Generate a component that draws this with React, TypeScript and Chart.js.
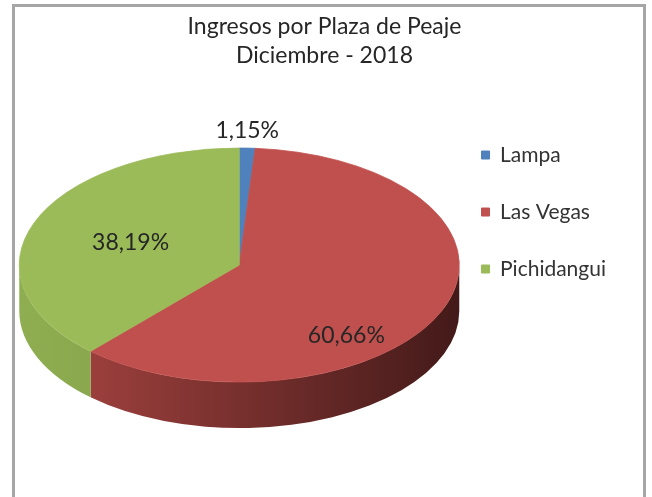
import React, { useEffect, useRef } from "react";
import { Chart, registerables } from "chart.js";

Chart.register(...registerables);

// ---- data ----
const TITLE_LINES = ["Ingresos por Plaza de Peaje", "Diciembre - 2018"];
const CATEGORIES = ["Lampa", "Las Vegas", "Pichidangui"];
const SHARES = [1.15, 60.66, 38.19];

// ---- style ----
const TOP_COLORS = ["#4F81BD", "#C0504D", "#9BBB59"];
const SIDE_LIGHT = ["#4a77b0", "#ac4643", "#8fae51"];
const SIDE_DARK = ["#2c4d75", "#431a19", "#6e8b3c"];
const FONT = "Lato, 'Open Sans', sans-serif";
const TILT = 0.532;
const DEPTH = 46;

const fmt = (v: number) => v.toFixed(2).replace(".", ",") + "%";

const pie3d = {
  id: "pie3d",
  beforeDatasetsDraw(chart: any) {
    const ctx = chart.ctx as CanvasRenderingContext2D;
    const meta = chart.getDatasetMeta(0);
    meta.data.forEach((arc: any, i: number) => {
      const { x, y, startAngle, endAngle, outerRadius: r } = arc.getProps(
        ["x", "y", "startAngle", "endAngle", "outerRadius"],
        true
      );
      const ry = r * TILT;
      for (let k = -1; k <= 1; k++) {
        const a = Math.max(startAngle, 2 * Math.PI * k);
        const b = Math.min(endAngle, 2 * Math.PI * k + Math.PI);
        if (b <= a) continue;
        const g = ctx.createLinearGradient(x - r, 0, x + r, 0);
        g.addColorStop(0, SIDE_LIGHT[i]);
        g.addColorStop(1, SIDE_DARK[i]);
        ctx.save();
        ctx.beginPath();
        ctx.ellipse(x, y, r, ry, 0, a, b);
        ctx.ellipse(x, y + DEPTH, r, ry, 0, b, a, true);
        ctx.closePath();
        ctx.fillStyle = g;
        ctx.fill();
        ctx.restore();
      }
    });
  },
  beforeDatasetDraw(chart: any) {
    const ctx = chart.ctx as CanvasRenderingContext2D;
    const arc = chart.getDatasetMeta(0).data[0];
    ctx.save();
    ctx.translate(arc.x, arc.y);
    ctx.scale(1, TILT);
    ctx.translate(-arc.x, -arc.y);
  },
  afterDatasetDraw(chart: any) {
    chart.ctx.restore();
  },
  afterDatasetsDraw(chart: any) {
    const ctx = chart.ctx as CanvasRenderingContext2D;
    const meta = chart.getDatasetMeta(0);
    const data = chart.data.datasets[0].data as number[];
    const total = data.reduce((s, v) => s + v, 0);
    ctx.save();
    ctx.font = `23px ${FONT}`;
    ctx.fillStyle = "#262626";
    ctx.textAlign = "center";
    ctx.textBaseline = "middle";
    meta.data.forEach((arc: any, i: number) => {
      const { x, y, startAngle, endAngle, outerRadius: r } = arc.getProps(
        ["x", "y", "startAngle", "endAngle", "outerRadius"],
        true
      );
      const mid = (startAngle + endAngle) / 2;
      const frac = data[i] / total;
      let px: number, py: number;
      if (frac < 0.05) {
        px = x + r * Math.cos(mid);
        py = y + r * TILT * Math.sin(mid) - 18;
      } else {
        const f = 0.53;
        px = x + f * r * Math.cos(mid);
        py = y + f * r * TILT * Math.sin(mid) + (Math.sin(mid) > 0 ? DEPTH : 0);
      }
      ctx.fillText(fmt(data[i]), px, py);
    });
    ctx.restore();
  },
};

export default function App() {
  const ref = useRef<HTMLCanvasElement | null>(null);
  useEffect(() => {
    if (!ref.current) return;
    const chart = new Chart(ref.current, {
      type: "pie",
      data: {
        labels: CATEGORIES,
        datasets: [
          {
            data: SHARES,
            backgroundColor: TOP_COLORS,
            borderColor: TOP_COLORS,
            borderWidth: 1,
            radius: 220,
            clip: false,
          } as any,
        ],
      },
      options: {
        responsive: false,
        animation: false,
        events: [],
        layout: { padding: { left: 33, right: 24, top: 0, bottom: 42 } },
        plugins: {
          title: {
            display: true,
            text: TITLE_LINES,
            color: "#262626",
            font: { family: FONT, size: 23, weight: "normal", lineHeight: 1.22 },
            padding: { top: 13, bottom: 6 },
          },
          legend: {
            position: "right",
            align: "start",
            fullSize: false,
            title: { display: true, text: "", padding: { top: 19, bottom: 0 }, font: { size: 12, lineHeight: 1.2 } },
            labels: {
              boxWidth: 8,
              boxHeight: 8,
              padding: 36,
              color: "#333333",
              font: { family: FONT, size: 21 },
            },
          },
          tooltip: { enabled: false },
        },
      } as any,
      plugins: [pie3d],
    });
    return () => chart.destroy();
  }, []);

  return (
    <div
      style={{
        position: "absolute",
        left: 0,
        top: 0,
        width: 652,
        height: 497,
        overflow: "hidden",
        background: "#ffffff",
      }}
    >
      <div
        style={{
          position: "absolute",
          left: 12,
          top: 4,
          width: 628,
          height: 520,
          border: "3px solid #a6a6a6",
        }}
      />
      <canvas
        ref={ref}
        width={640}
        height={497}
        style={{ position: "absolute", left: 0, top: 0, width: 640, height: 497 }}
      />
    </div>
  );
}
